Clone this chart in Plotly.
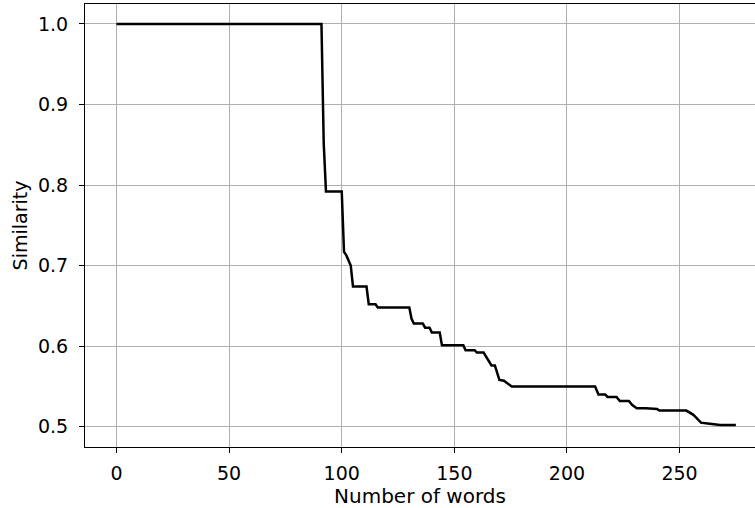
import plotly.graph_objects as go

# Data
num_words = [0, 91, 92, 93, 100, 101, 102, 104, 105, 111, 112, 115, 116, 130, 131, 132,
             136, 137, 139, 140, 143.5, 144.5, 154, 155, 159, 160, 163, 164, 166.5, 168,
             170, 172, 175.5, 212.5, 214, 217, 218, 222, 223.5, 227.5, 229, 231, 235,
             240, 241, 253, 256, 257.5, 259.5, 262.5, 268, 275]
similarity = [1.0, 1.0, 0.852, 0.792, 0.792, 0.717, 0.713, 0.700, 0.674, 0.674, 0.652,
              0.652, 0.648, 0.648, 0.634, 0.628, 0.628, 0.623, 0.623, 0.617, 0.617, 0.601,
              0.601, 0.595, 0.595, 0.592, 0.592, 0.587, 0.576, 0.576, 0.558, 0.557, 0.550,
              0.550, 0.540, 0.540, 0.537, 0.537, 0.532, 0.532, 0.527, 0.523, 0.523, 0.522,
              0.520, 0.520, 0.515, 0.511, 0.505, 0.504, 0.502, 0.502]

x_ticks = [0, 50, 100, 150, 200, 250]
y_ticks = [0.5, 0.6, 0.7, 0.8, 0.9, 1.0]
y_tick_labels = ["0.5", "0.6", "0.7", "0.8", "0.9", "1.0"]

FONT = "DejaVu Sans"

fig = go.Figure()
fig.add_trace(go.Scatter(
    x=num_words, y=similarity, mode="lines",
    line=dict(color="black", width=2.5),
    showlegend=False,
))

fig.update_layout(
    width=755, height=508,
    margin=dict(l=85, r=0, t=4, b=61),
    paper_bgcolor="white", plot_bgcolor="white",
    font=dict(family=FONT, size=19, color="black"),
)
fig.update_xaxes(
    range=[-14.0, 283.5], automargin=False,
    tickvals=x_ticks,
    ticks="outside", ticklen=5, tickwidth=1.2, tickcolor="black",
    ticklabelstandoff=4,
    showline=True, linecolor="black", linewidth=1.2, mirror=True,
    showgrid=True, gridcolor="#b0b0b0", gridwidth=1.1,
    zeroline=False,
    tickfont=dict(family=FONT, size=19, color="black"),
    title=dict(text="Number of words", font=dict(family=FONT, size=20, color="black"), standoff=6),
)
fig.update_yaxes(
    range=[0.4748, 1.0248], automargin=False,
    tickvals=y_ticks, ticktext=y_tick_labels,
    ticks="outside", ticklen=5, tickwidth=1.2, tickcolor="black",
    ticklabelstandoff=7,
    showline=True, linecolor="black", linewidth=1.2, mirror=False,
    showgrid=True, gridcolor="#b0b0b0", gridwidth=1.1,
    zeroline=False,
    tickfont=dict(family=FONT, size=19, color="black"),
    title=dict(text="Similarity", font=dict(family=FONT, size=19, color="black"), standoff=5),
)

fig.write_html(
    "out.html",
    config={"displayModeBar": False},
    post_script="document.body.style.margin='0';document.body.style.overflow='hidden';",
)
